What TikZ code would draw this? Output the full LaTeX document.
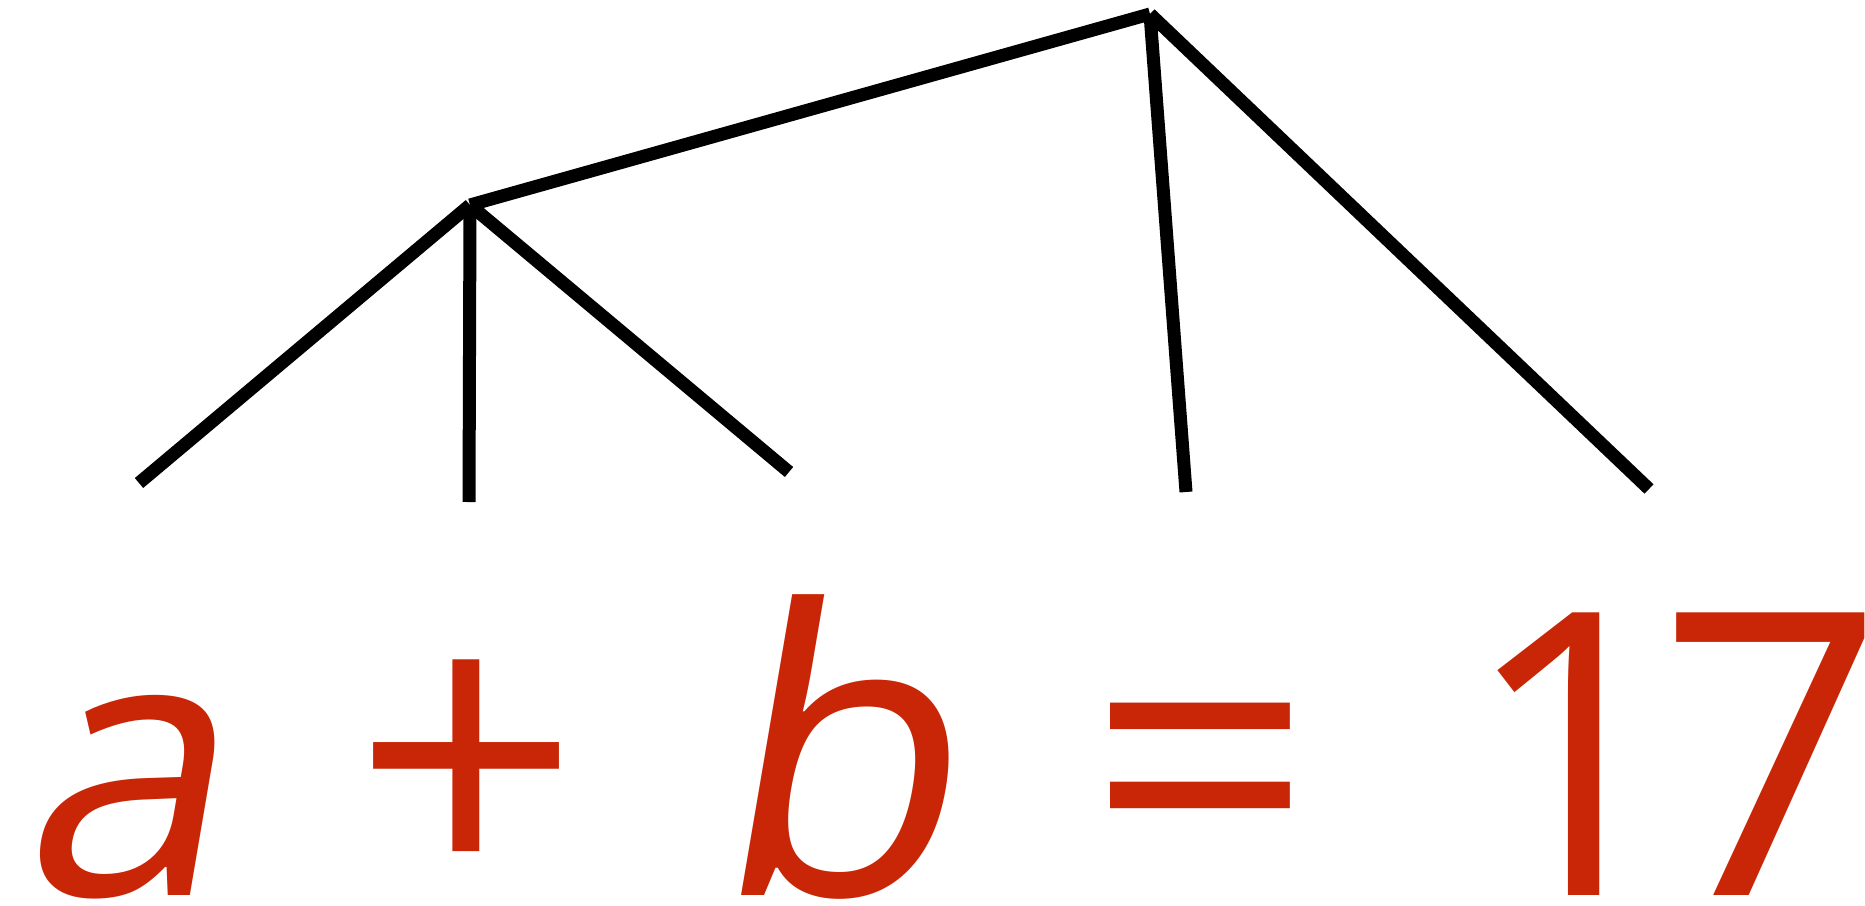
\documentclass[tikz,border=0pt]{standalone}
\usepackage{fontspec}
\setmainfont{Open Sans}
\newfontfamily\slantsans[FakeSlant=0.17]{Open Sans}
\definecolor{eqred}{RGB}{200,38,6}
\tikzset{
  branch/.style={draw=black, line width=13pt, line cap=butt},
  glyph/.style={text=eqred, inner sep=0pt, outer sep=0pt, anchor=base}
}
\begin{document}
\begin{tikzpicture}[x=1pt,y=-1pt]
\useasboundingbox (0,0) rectangle (1865,905);
\coordinate (top) at (1150,14);
\coordinate (mid) at (470,205);
\coordinate (l1) at (139,483);
\coordinate (l2) at (469,502);
\coordinate (l3) at (789,472);
\coordinate (l4) at (1186,492);
\coordinate (l5) at (1649,489);
\draw[branch] (mid) -- (top);
\draw[branch] (mid) -- (l1);
\draw[branch] (mid) -- (l2);
\draw[branch] (mid) -- (l3);
\draw[branch] (top) -- (l4);
\draw[branch] (top) -- (l5);
\node[glyph] (ta) at (118,895) {\fontsize{368}{368}\slantsans a};
\node[glyph] (tplus) at (467,895) {\fontsize{396}{396}\selectfont +};
\node[glyph] (tb) at (829,895) {\fontsize{396}{396}\slantsans b};
\node[glyph] (teq) at (1201,895) {\fontsize{396}{396}\selectfont =};
\node[glyph] (tone) at (1575,895) {\fontsize{396}{396}\selectfont 1};
\node[glyph] (tseven) at (1772,895) {\fontsize{396}{396}\selectfont 7};
\end{tikzpicture}
\end{document}
